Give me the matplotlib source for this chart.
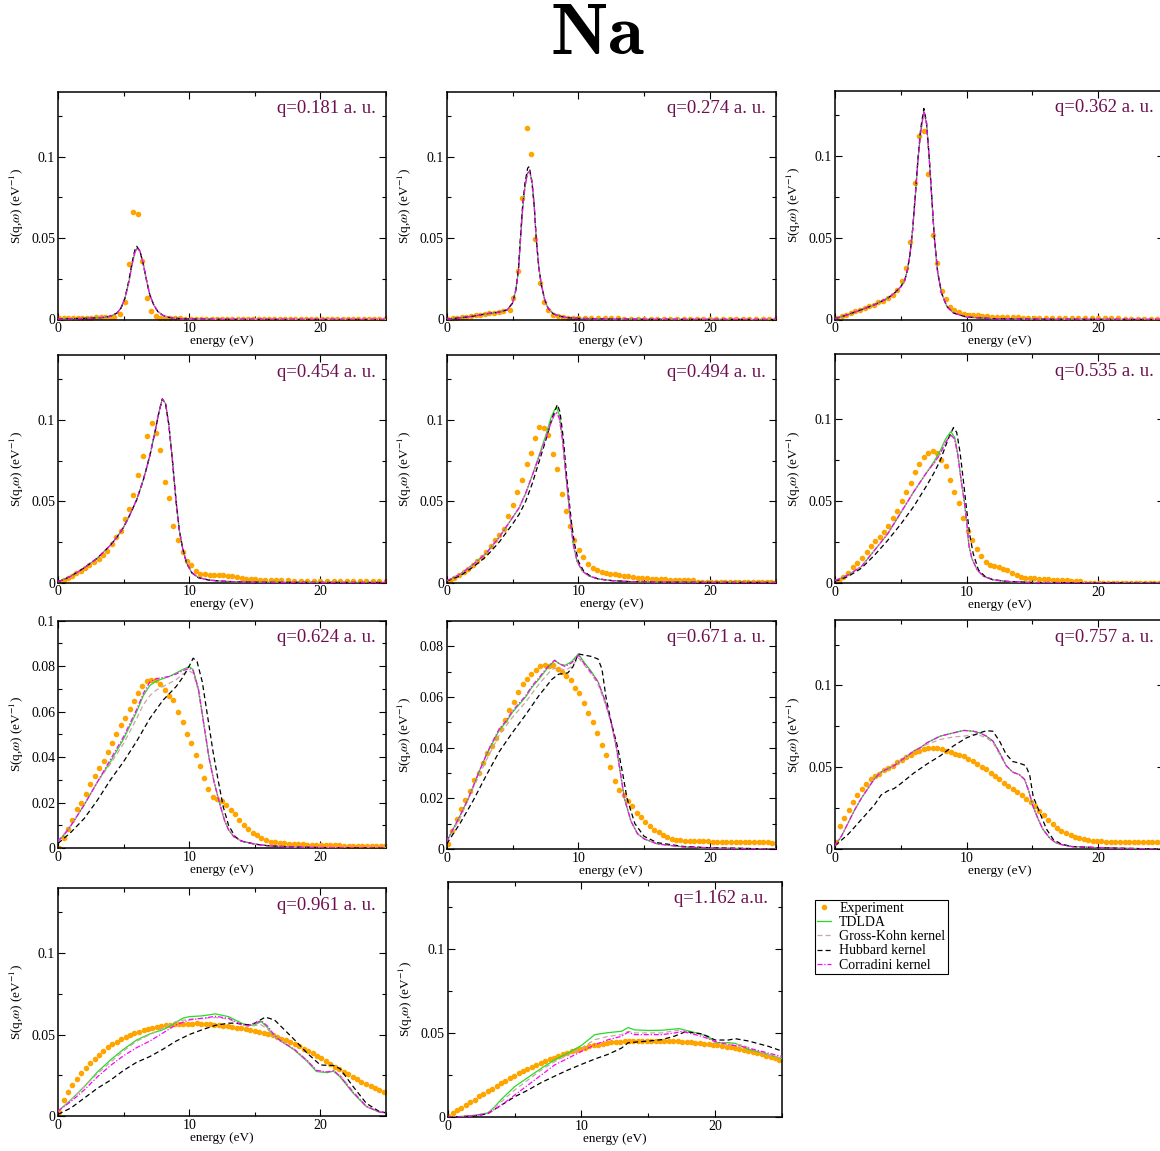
import matplotlib
matplotlib.use('Agg')
import matplotlib.pyplot as plt
from matplotlib.ticker import MultipleLocator, FuncFormatter
from matplotlib.lines import Line2D

plt.rcParams['font.family'] = ['Liberation Serif', 'DejaVu Serif']
plt.rcParams['mathtext.fontset'] = 'stix'

# ---------------- data (energy eV, S(q,w) 1/eV) ----------------
q_labels = ['q=0.181 a. u.', 'q=0.274 a. u.', 'q=0.362 a. u.', 'q=0.454 a. u.',
            'q=0.494 a. u.', 'q=0.535 a. u.', 'q=0.624 a. u.', 'q=0.671 a. u.',
            'q=0.757 a. u.', 'q=0.961 a. u.', 'q=1.162 a.u.']
y_tops = [0.14, 0.14, 0.14, 0.14, 0.14, 0.14, 0.1, 0.09, 0.14, 0.14, 0.14]
y_steps = [0.05, 0.05, 0.05, 0.05, 0.05, 0.05, 0.02, 0.02, 0.05, 0.05, 0.05]

# q = 0.181
exp_181 = [(0.1,0.0008),(0.45,0.0008),(0.8,0.0009),(1.15,0.0009),(1.5,0.001),(1.85,0.001),(2.2,0.0011),
           (2.55,0.0012),(2.9,0.0013),(3.25,0.0014),(3.6,0.0015),(3.95,0.0016),(4.3,0.0018),(4.7,0.0035),
           (5.1,0.0105),(5.4,0.034),(5.74,0.066),(6.12,0.065),(6.38,0.036),(6.76,0.0134),(7.09,0.0054),
           (7.45,0.002),(7.8,0.0012),(8.15,0.0009),(8.5,0.0008),(8.9,0.0007),(9.3,0.0007),(9.7,0.0006),
           (10.1,0.0006),(10.5,0.0006),(10.9,0.0006),(11.3,0.0006),(11.7,0.0006),(12.1,0.0006),(12.5,0.0005),
           (12.9,0.0005),(13.3,0.0005),(13.7,0.0005),(14.1,0.0005),(14.5,0.0005),(14.9,0.0005),(15.3,0.0005),
           (15.7,0.0005),(16.1,0.0005),(16.5,0.0005),(16.9,0.0005),(17.3,0.0005),(17.7,0.0004),(18.1,0.0004),
           (18.5,0.0004),(18.9,0.0004),(19.3,0.0004),(19.7,0.0004),(20.1,0.0004),(20.5,0.0004),(20.9,0.0004),
           (21.3,0.0004),(21.7,0.0004),(22.1,0.0004),(22.5,0.0004),(22.9,0.0004),(23.3,0.0004),(23.7,0.0004),
           (24.1,0.0004),(24.5,0.0004),(24.9,0.0004)]
tdlda_181 = [(0,0.0003),(1,0.0005),(2,0.0007),(3,0.001),(3.5,0.0013),(4,0.002),(4.5,0.004),(4.8,0.007),
             (5.1,0.013),(5.4,0.023),(5.65,0.034),(5.85,0.041),(6.05,0.044),(6.25,0.042),(6.5,0.034),
             (6.75,0.024),(7.0,0.015),(7.3,0.009),(7.6,0.005),(8.0,0.0025),(8.5,0.0012),(9.0,0.0007),
             (10,0.0003),(12,0.0001),(25,0.0)]
gk_181 = tdlda_181
hub_181 = [(0,0.0003),(1,0.0005),(2,0.0007),(3,0.001),(3.5,0.0013),(4,0.002),(4.5,0.004),(4.8,0.007),
           (5.1,0.013),(5.4,0.024),(5.65,0.035),(5.85,0.0425),(6.0,0.045),(6.25,0.042),(6.5,0.034),
           (6.75,0.024),(7.0,0.015),(7.3,0.009),(7.6,0.005),(8.0,0.0025),(8.5,0.0012),(9.0,0.0007),
           (10,0.0003),(12,0.0001),(25,0.0)]
cor_181 = tdlda_181

# q = 0.274
exp_274 = [(0.1,0.0005),(0.45,0.0008),(0.8,0.0012),(1.15,0.0015),(1.5,0.0018),(1.85,0.0021),(2.2,0.0025),
           (2.55,0.003),(2.9,0.0035),(3.25,0.004),(3.6,0.0043),(3.95,0.0046),(4.3,0.0052),(4.81,0.0057),
           (5.06,0.0135),(5.44,0.030),(5.75,0.0746),(6.1,0.1174),(6.4,0.1016),(6.71,0.0496),(7.09,0.0225),
           (7.42,0.0109),(7.72,0.0057),(8.1,0.003),(8.45,0.002),(8.8,0.0015),(9.2,0.0012),(9.6,0.001),
           (10.0,0.0009),(10.5,0.0008),(11.0,0.0008),(11.5,0.0008),(12.0,0.0007),(12.5,0.0007),(13.0,0.0007),
           (13.5,0.0006),(14.0,0.0006),(14.5,0.0006),(15.0,0.0006),(15.5,0.0005),(16.0,0.0005),(16.5,0.0005),
           (17.0,0.0005),(17.5,0.0005),(18.0,0.0005),(18.5,0.0005),(19.0,0.0004),(19.5,0.0004),(20.0,0.0004),
           (20.5,0.0004),(21.0,0.0004),(21.5,0.0004),(22.0,0.0004),(22.5,0.0004),(23.0,0.0004),(23.5,0.0004),
           (24.0,0.0004),(24.5,0.0004),(25.0,0.0004)]
tdlda_274 = [(0,0.0003),(1,0.001),(2,0.002),(3,0.0035),(4,0.0045),(4.6,0.006),(5.0,0.01),(5.25,0.018),
             (5.45,0.03),(5.6,0.048),(5.75,0.066),(5.95,0.082),(6.15,0.09),(6.3,0.091),(6.5,0.084),
             (6.65,0.07),(6.8,0.05),(7.0,0.032),(7.2,0.021),(7.45,0.012),(7.7,0.007),(8.1,0.0035),
             (8.6,0.002),(9.3,0.001),(10,0.0007),(12,0.0003),(15,0.0001),(25,0.0)]
gk_274 = tdlda_274
hub_274 = [(0,0.0003),(1,0.001),(2,0.002),(3,0.0035),(4,0.0045),(4.6,0.006),(5.0,0.01),(5.25,0.018),
           (5.45,0.031),(5.6,0.05),(5.75,0.068),(5.95,0.084),(6.15,0.093),(6.27,0.094),(6.45,0.086),
           (6.65,0.07),(6.8,0.05),(7.0,0.032),(7.2,0.021),(7.45,0.012),(7.7,0.007),(8.1,0.0035),
           (8.6,0.002),(9.3,0.001),(10,0.0007),(12,0.0003),(15,0.0001),(25,0.0)]
cor_274 = tdlda_274

# q = 0.362
exp_362 = [(0.18,0.0008),(0.5,0.002),(0.85,0.003),(1.2,0.004),(1.55,0.005),(1.9,0.006),(2.25,0.007),
           (2.6,0.008),(2.95,0.009),(3.3,0.0105),(3.65,0.0115),(4.05,0.013),(4.43,0.015),(4.73,0.018),
           (5.06,0.0236),(5.39,0.0314),(5.7,0.0473),(6.08,0.0836),(6.4,0.1123),(6.76,0.1154),(7.09,0.0887),
           (7.42,0.0518),(7.72,0.0344),(8.1,0.0174),(8.4,0.0123),(8.73,0.0078),(9.06,0.0057),(9.44,0.0043),
           (9.8,0.0035),(10.15,0.003),(10.5,0.0027),(10.85,0.0025),(11.2,0.0022),(11.55,0.002),(11.9,0.0018),
           (12.3,0.0017),(12.7,0.0016),(13.1,0.0015),(13.5,0.0014),(13.9,0.0013),(14.3,0.0012),(14.7,0.0012),
           (15.1,0.0011),(15.5,0.0011),(16.0,0.001),(16.5,0.001),(17.0,0.0009),(17.5,0.0009),(18.0,0.0008),
           (18.5,0.0008),(19.0,0.0008),(19.5,0.0007),(20.0,0.0007),(20.5,0.0007),(21.0,0.0007),(21.5,0.0007),
           (22.0,0.0006),(22.5,0.0006),(23.0,0.0006),(23.5,0.0006),(24.0,0.0006),(24.5,0.0006),(25.0,0.0006)]
tdlda_362 = [(0,0.0005),(1,0.003),(2,0.006),(3,0.009),(4,0.013),(4.5,0.016),(5.0,0.02),(5.3,0.024),
             (5.5,0.03),(5.7,0.04),(5.9,0.055),(6.1,0.075),(6.3,0.097),(6.5,0.114),(6.75,0.127),(6.95,0.12),
             (7.15,0.1),(7.35,0.075),(7.55,0.05),(7.8,0.029),(8.1,0.016),(8.5,0.008),(9,0.004),(10,0.0015),
             (12,0.0005),(15,0.0002),(25,0.0)]
gk_362 = tdlda_362
hub_362 = [(0,0.0005),(1,0.003),(2,0.006),(3,0.009),(4,0.013),(4.5,0.016),(5.0,0.02),(5.3,0.024),
           (5.5,0.03),(5.7,0.04),(5.9,0.055),(6.1,0.076),(6.3,0.098),(6.5,0.116),(6.75,0.129),(6.95,0.121),
           (7.15,0.1),(7.35,0.075),(7.55,0.05),(7.8,0.029),(8.1,0.016),(8.5,0.008),(9,0.004),(10,0.0015),
           (12,0.0005),(15,0.0002),(25,0.0)]
cor_362 = tdlda_362

# q = 0.454
exp_454 = [(0.08,0.0002),(0.46,0.0016),(0.77,0.003),(1.1,0.0043),(1.4,0.0057),(1.73,0.0072),(2.07,0.0088),
           (2.4,0.0105),(2.75,0.0125),(3.1,0.0145),(3.43,0.0168),(3.76,0.0195),(4.1,0.024),(4.43,0.028),
           (4.77,0.032),(5.1,0.039),(5.41,0.045),(5.74,0.054),(6.12,0.066),(6.45,0.078),(6.76,0.09),
           (7.14,0.098),(7.45,0.092),(7.78,0.0818),(8.14,0.0617),(8.44,0.0518),(8.8,0.035),(9.13,0.026),
           (9.49,0.019),(9.82,0.0135),(10.15,0.0105),(10.5,0.0072),(10.85,0.0055),(11.2,0.005),(11.55,0.0049),
           (11.9,0.0048),(12.25,0.0047),(12.6,0.0046),(12.95,0.0042),(13.3,0.0038),(13.65,0.0032),(14.0,0.0026),
           (14.35,0.0022),(14.7,0.002),(15.05,0.0019),(15.4,0.0018),(15.8,0.0017),(16.2,0.0016),(16.6,0.0015),
           (17.0,0.0014),(17.5,0.0013),(18.0,0.0012),(18.5,0.0011),(19.0,0.001),(19.5,0.001),(20.0,0.0009),
           (20.5,0.0009),(21.0,0.0008),(21.5,0.0008),(22.0,0.0008),(22.5,0.0007),(23.0,0.0007),(23.5,0.0007),
           (24.0,0.0007),(24.5,0.0007),(25.0,0.0007)]
tdlda_454 = [(0,0.0005),(0.5,0.002),(1,0.004),(1.5,0.0065),(2,0.009),(2.5,0.012),(3,0.015),(3.5,0.019),
             (4,0.023),(4.5,0.028),(5,0.034),(5.5,0.042),(6,0.051),(6.5,0.063),(7,0.078),(7.4,0.093),
             (7.7,0.105),(7.95,0.113),(8.2,0.11),(8.45,0.097),(8.7,0.077),(9.0,0.05),(9.25,0.032),(9.5,0.021),
             (9.8,0.012),(10.2,0.006),(10.7,0.003),(11.5,0.0015),(12.5,0.0008),(14,0.0003),(16,0.0001),(25,0.0)]
gk_454 = tdlda_454
hub_454 = tdlda_454
cor_454 = tdlda_454

# q = 0.494
exp_494 = [(0.25,0.0012),(0.58,0.0027),(0.96,0.0047),(1.3,0.0065),(1.65,0.0085),(2.0,0.011),(2.33,0.0135),
           (2.68,0.016),(2.99,0.019),(3.33,0.0225),(3.66,0.026),(4.0,0.029),(4.35,0.033),(4.68,0.0407),
           (5.06,0.048),(5.37,0.056),(5.75,0.063),(6.08,0.073),(6.38,0.080),(6.73,0.089),(7.04,0.0959),
           (7.39,0.0953),(7.72,0.091),(8.1,0.079),(8.4,0.070),(8.73,0.0545),(9.06,0.044),(9.37,0.035),
           (9.7,0.026),(10.08,0.020),(10.38,0.016),(10.76,0.0115),(11.1,0.009),(11.4,0.0078),(11.77,0.0067),
           (12.1,0.006),(12.4,0.0055),(12.75,0.005),(13.1,0.0045),(13.45,0.0042),(13.8,0.0038),(14.15,0.0033),
           (14.5,0.003),(14.85,0.0027),(15.2,0.0025),(15.55,0.0023),(15.9,0.0021),(16.25,0.002),(16.6,0.0019),
           (16.95,0.0018),(17.3,0.0017),(17.65,0.0016),(18.0,0.0016),(18.35,0.0016),(18.7,0.0015),
           (19.05,0.0002),(19.4,0.0002),(19.75,0.0002),(20.1,0.0002),(20.45,0.0002),(20.8,0.0002),
           (21.15,0.0002),(21.5,0.0002),(21.85,0.0002),(22.2,0.0002),(22.55,0.0002),(22.9,0.0002),
           (23.25,0.0002),(23.6,0.0002),(23.95,0.0002),(24.3,0.0002),(24.65,0.0002),(25.0,0.0002)]
tdlda_494 = [(0,0.001),(0.5,0.003),(1,0.005),(1.5,0.008),(2,0.011),(2.5,0.0145),(3,0.018),(3.5,0.023),
             (4,0.028),(4.5,0.034),(5,0.04),(5.5,0.046),(6,0.055),(6.5,0.066),(7,0.078),(7.5,0.09),
             (7.9,0.101),(8.2,0.1065),(8.35,0.1076),(8.55,0.103),(8.8,0.088),(9.05,0.066),(9.25,0.05),
             (9.45,0.034),(9.62,0.023),(9.9,0.013),(10.3,0.007),(10.8,0.004),(11.5,0.0022),(12.5,0.0012),
             (14,0.0005),(16,0.0002),(25,0.0)]
gk_494 = [(0,0.001),(0.5,0.003),(1,0.005),(1.5,0.008),(2,0.011),(2.5,0.0145),(3,0.018),(3.5,0.023),
          (4,0.028),(4.5,0.034),(5,0.04),(5.5,0.046),(6,0.055),(6.5,0.066),(7,0.077),(7.5,0.088),
          (7.9,0.098),(8.2,0.1035),(8.35,0.1045),(8.55,0.101),(8.8,0.087),(9.05,0.066),(9.25,0.05),
          (9.45,0.034),(9.62,0.023),(9.9,0.013),(10.3,0.007),(10.8,0.004),(11.5,0.0022),(12.5,0.0012),
          (14,0.0005),(16,0.0002),(25,0.0)]
hub_494 = [(0,0.0008),(1,0.004),(2,0.0095),(3,0.016),(4,0.025),(5,0.036),(5.5,0.042),(6,0.05),
           (6.5,0.061),(7,0.074),(7.5,0.087),(8,0.101),(8.4,0.1095),(8.6,0.105),(8.85,0.089),(9.1,0.066),
           (9.3,0.05),(9.5,0.035),(9.7,0.024),(10,0.013),(10.4,0.007),(10.9,0.004),(11.5,0.0022),
           (12.5,0.0012),(14,0.0005),(16,0.0002),(25,0.0)]
cor_494 = gk_494

# q = 0.535
exp_535 = [(0.33,0.002),(0.63,0.0036),(1.01,0.0063),(1.39,0.0095),(1.7,0.012),(2.05,0.0155),(2.4,0.019),
           (2.72,0.0225),(3.07,0.0255),(3.42,0.028),(3.72,0.031),(4.05,0.035),(4.38,0.04),(4.71,0.044),
           (5.06,0.05),(5.39,0.0557),(5.75,0.061),(6.08,0.068),(6.4,0.073),(6.73,0.0773),(7.06,0.0796),
           (7.42,0.0804),(7.72,0.0796),(8.08,0.0755),(8.4,0.0715),(8.76,0.063),(9.06,0.0557),(9.42,0.049),
           (9.75,0.040),(10.08,0.032),(10.43,0.026),(10.76,0.021),(11.1,0.0166),(11.44,0.0128),(11.77,0.0107),
           (12.1,0.0101),(12.46,0.0097),(12.78,0.0087),(13.1,0.0077),(13.47,0.006),(13.8,0.005),(14.1,0.0038),
           (14.45,0.0033),(14.8,0.003),(15.15,0.0028),(15.5,0.0026),(15.85,0.0024),(16.2,0.0022),(16.55,0.002),
           (16.9,0.0019),(17.25,0.0018),(17.6,0.0016),(17.95,0.0015),(18.3,0.0014),(18.65,0.0013),
           (19.0,0.0002),(19.35,0.0002),(19.7,0.0002),(20.05,0.0002),(20.4,0.0002),(20.75,0.0002),
           (21.1,0.0002),(21.45,0.0002),(21.8,0.0002),(22.15,0.0002),(22.5,0.0002),(22.85,0.0002),
           (23.2,0.0002),(23.55,0.0002),(23.9,0.0002),(24.25,0.0002),(24.6,0.0002),(24.95,0.0002)]
tdlda_535 = [(0,0.0015),(0.5,0.003),(1,0.005),(1.5,0.0075),(2,0.01),(2.5,0.015),(3,0.02),(3.5,0.025),
             (4,0.03),(4.5,0.0365),(5,0.043),(5.5,0.0495),(6,0.056),(6.5,0.062),(7,0.068),(7.5,0.074),
             (8,0.081),(8.4,0.088),(8.8,0.0925),(9.1,0.089),(9.35,0.078),(9.6,0.062),(9.82,0.05),(10.0,0.038),
             (10.18,0.0227),(10.4,0.015),(10.8,0.008),(11.3,0.004),(12,0.002),(13,0.001),(15,0.0003),(25,0.0)]
gk_535 = [(0,0.0015),(0.5,0.003),(1,0.005),(1.5,0.0075),(2,0.01),(2.5,0.015),(3,0.02),(3.5,0.025),
          (4,0.03),(4.5,0.0365),(5,0.043),(5.5,0.0495),(6,0.056),(6.5,0.062),(7,0.068),(7.5,0.073),
          (8,0.079),(8.4,0.086),(8.8,0.0905),(9.1,0.088),(9.35,0.077),(9.6,0.062),(9.82,0.05),(10.0,0.038),
          (10.18,0.0227),(10.4,0.015),(10.8,0.008),(11.3,0.004),(12,0.002),(13,0.001),(15,0.0003),(25,0.0)]
hub_535 = [(0,0.001),(1,0.004),(2,0.009),(3,0.017),(4,0.026),(5,0.036),(6,0.047),(7,0.06),(7.5,0.067),
           (8,0.075),(8.6,0.088),(9.0,0.095),(9.25,0.092),(9.5,0.08),(9.75,0.063),(10.0,0.045),(10.25,0.029),
           (10.5,0.018),(10.9,0.008),(11.4,0.004),(12,0.002),(13,0.001),(15,0.0003),(25,0.0)]
cor_535 = gk_535

# q = 0.624
exp_624 = [(0.08,0.0),(0.43,0.0045),(0.76,0.0085),(1.09,0.0125),(1.45,0.017),(1.78,0.0198),(2.1,0.0236),
           (2.47,0.028),(2.8,0.0316),(3.13,0.035),(3.49,0.0383),(3.82,0.0423),(4.15,0.0463),(4.45,0.05),
           (4.78,0.054),(5.14,0.0574),(5.47,0.061),(5.8,0.0648),(6.1,0.0683),(6.44,0.0712),(6.77,0.0736),
           (7.12,0.0739),(7.46,0.0739),(7.81,0.072),(8.14,0.0697),(8.47,0.067),(8.8,0.065),(9.16,0.060),
           (9.5,0.0554),(9.8,0.050),(10.13,0.046),(10.5,0.041),(10.8,0.036),(11.1,0.031),(11.45,0.026),
           (11.78,0.0225),(12.14,0.0215),(12.47,0.0207),(12.8,0.019),(13.15,0.0169),(13.49,0.0148),
           (13.82,0.0125),(14.17,0.0103),(14.5,0.0085),(14.83,0.0066),(15.2,0.0056),(15.5,0.0043),
           (15.85,0.0034),(16.2,0.0028),(16.55,0.0025),(16.9,0.0022),(17.25,0.002),(17.6,0.0019),
           (17.95,0.0018),(18.3,0.0017),(18.65,0.0016),(19.0,0.0015),(19.35,0.0014),(19.7,0.0013),
           (20.05,0.0013),(20.4,0.0012),(20.75,0.0012),(21.1,0.0011),(21.45,0.0011),(21.8,0.001),
           (22.15,0.001),(22.5,0.001),(22.85,0.001),(23.2,0.0009),(23.55,0.0009),(23.9,0.0009),
           (24.25,0.0009),(24.6,0.0009),(24.95,0.0009)]
tdlda_624 = [(0,0.003),(0.5,0.006),(1,0.01),(1.5,0.0145),(2,0.019),(2.5,0.024),(3,0.029),(3.5,0.0335),
             (4,0.038),(4.5,0.043),(5,0.048),(5.5,0.054),(6,0.06),(6.5,0.067),(7,0.0715),(7.5,0.0735),
             (8,0.0745),(8.5,0.0755),(9,0.077),(9.5,0.0785),(10,0.0798),(10.3,0.0785),(10.7,0.07),(11.1,0.055),
             (11.5,0.04),(11.9,0.029),(12.3,0.02),(12.7,0.012),(13.0,0.008),(13.4,0.005),(14,0.003),
             (15,0.0017),(16,0.001),(18,0.0004),(20,0.0002),(25,0.0)]
gk_624 = [(0,0.003),(1,0.01),(2,0.019),(3,0.029),(4,0.037),(5,0.046),(6,0.057),(6.5,0.063),(7,0.067),
          (7.5,0.0695),(8,0.071),(8.5,0.0725),(9,0.074),(9.5,0.0765),(10,0.0778),(10.3,0.077),(10.7,0.069),
          (11.1,0.055),(11.5,0.04),(11.9,0.029),(12.3,0.02),(12.7,0.012),(13.0,0.008),(13.4,0.005),
          (14,0.003),(15,0.0017),(16,0.001),(18,0.0004),(20,0.0002),(25,0.0)]
hub_624 = [(0,0.002),(1,0.007),(2,0.013),(3,0.021),(4,0.03),(5,0.038),(6,0.047),(7,0.057),(8,0.065),
           (9,0.071),(9.5,0.075),(10,0.08),(10.3,0.0835),(10.6,0.082),(11,0.073),(11.4,0.058),(11.8,0.043),
           (12.2,0.03),(12.6,0.018),(13,0.01),(13.5,0.005),(14,0.003),(15,0.0017),(16,0.001),(18,0.0004),
           (20,0.0002),(25,0.0)]
cor_624 = [(0,0.003),(0.5,0.006),(1,0.01),(1.5,0.0145),(2,0.019),(2.5,0.024),(3,0.029),(3.5,0.034),
           (4,0.039),(4.5,0.044),(5,0.049),(5.5,0.055),(6,0.061),(6.5,0.068),(7,0.073),(7.5,0.0745),
           (8,0.075),(8.5,0.0755),(9,0.0765),(9.5,0.078),(10,0.079),(10.3,0.078),(10.7,0.07),(11.1,0.055),
           (11.5,0.04),(11.9,0.029),(12.3,0.02),(12.7,0.012),(13.0,0.008),(13.4,0.005),(14,0.003),
           (15,0.0017),(16,0.001),(18,0.0004),(20,0.0002),(25,0.0)]

# q = 0.671
exp_671 = [(0.08,0.002),(0.38,0.0072),(0.76,0.0118),(1.09,0.0157),(1.42,0.0194),(1.77,0.023),(2.1,0.0273),
           (2.43,0.030),(2.76,0.034),(3.09,0.0378),(3.44,0.0408),(3.77,0.044),(4.1,0.0472),(4.43,0.051),
           (4.76,0.0548),(5.11,0.0581),(5.44,0.062),(5.77,0.0653),(6.1,0.0673),(6.43,0.069),(6.78,0.0708),
           (7.11,0.0721),(7.44,0.0725),(7.77,0.0721),(8.1,0.0725),(8.43,0.0712),(8.76,0.070),(9.1,0.0682),
           (9.42,0.0669),(9.75,0.0637),(10.08,0.0614),(10.4,0.0578),(10.76,0.0538),(11.09,0.050),
           (11.42,0.0456),(11.77,0.041),(12.1,0.0371),(12.43,0.0325),(12.76,0.027),(13.09,0.0233),
           (13.44,0.0214),(13.77,0.0188),(14.1,0.0168),(14.43,0.0144),(14.76,0.0126),(15.1,0.0105),
           (15.43,0.0092),(15.76,0.0076),(16.1,0.0066),(16.43,0.0056),(16.76,0.0046),(17.1,0.0039),
           (17.43,0.0037),(17.76,0.0034),(18.1,0.0033),(18.45,0.0032),(18.8,0.0031),(19.15,0.003),
           (19.5,0.003),(19.85,0.003),(20.2,0.0029),(20.55,0.0029),(20.9,0.0028),(21.25,0.0028),
           (21.6,0.0028),(21.95,0.0027),(22.3,0.0027),(22.65,0.0027),(23.0,0.0027),(23.35,0.0026),
           (23.7,0.0026),(24.05,0.0026),(24.4,0.0026),(24.75,0.0025)]
tdlda_671 = [(0,0.003),(0.5,0.008),(1,0.013),(1.65,0.02),(2.5,0.031),(3,0.037),(3.3,0.04),(4,0.047),
             (4.5,0.05),(5,0.054),(5.5,0.057),(6,0.06),(6.5,0.064),(7,0.067),(7.6,0.071),(8.2,0.0745),
             (8.6,0.073),(9.0,0.0725),(9.5,0.074),(10,0.077),(10.4,0.074),(11,0.07),(11.5,0.066),(12,0.059),
             (12.5,0.05),(12.9,0.04),(13.2,0.03),(13.5,0.02),(14,0.011),(14.5,0.006),(15,0.004),(16,0.002),
             (18,0.0008),(20,0.0004),(25,0.0)]
gk_671 = [(0,0.003),(1,0.012),(2,0.024),(3,0.035),(4,0.045),(5,0.052),(6,0.058),(7,0.065),(8,0.071),
          (8.5,0.0715),(9,0.0705),(9.5,0.072),(10,0.0755),(10.4,0.073),(11,0.069),(11.5,0.065),(12,0.058),
          (12.5,0.05),(12.9,0.04),(13.2,0.03),(13.5,0.02),(14,0.011),(14.5,0.006),(15,0.004),(16,0.002),
          (18,0.0008),(20,0.0004),(25,0.0)]
hub_671 = [(0,0.002),(1,0.01),(2,0.019),(3,0.029),(4,0.0385),(5,0.046),(6,0.053),(7,0.0605),(8,0.067),
           (8.5,0.069),(9.2,0.0695),(9.6,0.072),(10,0.077),(10.5,0.0765),(11,0.076),(11.5,0.075),
           (11.8,0.071),(12.1,0.06),(12.5,0.05),(13.0,0.04),(13.4,0.029),(13.7,0.02),(14.3,0.01),(15,0.005),
           (16,0.0025),(18,0.001),(20,0.0005),(25,0.0)]
cor_671 = [(0,0.003),(0.5,0.008),(1,0.013),(1.65,0.02),(2.5,0.031),(3,0.037),(3.3,0.0405),(4,0.0475),
           (4.5,0.0505),(5,0.0545),(5.5,0.0575),(6,0.0605),(6.5,0.0645),(7,0.0675),(7.6,0.0715),(8.2,0.0745),
           (8.6,0.073),(9.0,0.072),(9.5,0.0735),(10,0.0765),(10.4,0.0735),(11,0.0695),(11.5,0.066),
           (12,0.059),(12.5,0.05),(12.9,0.04),(13.2,0.03),(13.5,0.02),(14,0.011),(14.5,0.006),(15,0.004),
           (16,0.002),(18,0.0008),(20,0.0004),(25,0.0)]

# q = 0.757
exp_757 = [(0.08,0.004),(0.38,0.014),(0.71,0.019),(1.04,0.024),(1.39,0.029),(1.7,0.033),(2.05,0.0365),
           (2.35,0.0395),(2.71,0.0426),(3.04,0.0447),(3.37,0.046),(3.72,0.048),(4.05,0.0498),(4.38,0.051),
           (4.73,0.053),(5.06,0.0545),(5.39,0.056),(5.75,0.0576),(6.08,0.059),(6.4,0.06),(6.76,0.061),
           (7.09,0.0615),(7.42,0.0615),(7.77,0.0615),(8.1,0.061),(8.43,0.06),(8.78,0.059),(9.11,0.058),
           (9.44,0.0574),(9.8,0.0566),(10.13,0.055),(10.46,0.0535),(10.8,0.0522),(11.14,0.0504),
           (11.47,0.0488),(11.82,0.0467),(12.15,0.0447),(12.48,0.0426),(12.84,0.0406),(13.16,0.0385),
           (13.5,0.0369),(13.85,0.0348),(14.18,0.0328),(14.5,0.0307),(14.86,0.0287),(15.19,0.0262),
           (15.52,0.0232),(15.87,0.0205),(16.2,0.018),(16.53,0.0154),(16.89,0.0129),(17.2,0.0113),
           (17.54,0.0098),(17.9,0.0086),(18.23,0.0076),(18.56,0.0068),(18.9,0.0059),(19.24,0.0053),
           (19.57,0.0049),(19.9,0.0047),(20.25,0.0046),(20.6,0.0045),(20.95,0.0044),(21.3,0.0043),
           (21.65,0.0043),(22.0,0.0042),(22.35,0.0042),(22.7,0.0041),(23.05,0.0041),(23.4,0.004),
           (23.75,0.004),(24.1,0.004),(24.45,0.004),(24.8,0.004)]
tdlda_757 = [(0,0.002),(0.5,0.008),(1,0.016),(1.5,0.024),(2,0.031),(2.5,0.037),(3,0.043),(3.5,0.047),
             (4,0.049),(4.5,0.051),(5,0.054),(5.5,0.057),(6,0.06),(6.5,0.062),(7,0.065),(8,0.069),(9,0.071),
             (9.8,0.0725),(10.5,0.072),(11,0.071),(11.5,0.069),(12,0.066),(12.5,0.059),(13,0.051),
             (13.5,0.047),(14,0.0455),(14.4,0.0426),(14.7,0.036),(15.05,0.026),(15.45,0.018),(15.8,0.012),
             (16.3,0.0068),(16.8,0.0037),(17.3,0.0025),(18,0.0015),(20,0.0008),(22,0.0004),(25,0.0)]
gk_757 = [(0,0.002),(0.5,0.008),(1,0.016),(1.5,0.024),(2,0.031),(2.5,0.037),(3,0.043),(3.5,0.047),
          (4,0.049),(4.5,0.051),(5,0.054),(5.5,0.057),(6,0.06),(6.5,0.062),(7,0.064),(8,0.067),(9,0.0685),
          (9.8,0.069),(10.5,0.07),(11,0.0695),(11.5,0.068),(12,0.065),(12.5,0.058),(13,0.051),(13.5,0.047),
          (14,0.0455),(14.4,0.0426),(14.7,0.036),(15.05,0.026),(15.45,0.018),(15.8,0.012),(16.3,0.0068),
          (16.8,0.0037),(17.3,0.0025),(18,0.0015),(20,0.0008),(22,0.0004),(25,0.0)]
hub_757 = [(0,0.002),(1,0.009),(2,0.018),(3,0.027),(3.5,0.033),(4,0.0355),(4.5,0.037),(5,0.04),(6,0.0465),
           (7,0.052),(8,0.057),(9,0.063),(10,0.068),(11,0.071),(11.5,0.0723),(12,0.072),(12.5,0.066),
           (13,0.058),(13.5,0.0535),(14,0.0525),(14.5,0.051),(14.8,0.045),(15.06,0.032),(15.57,0.022),
           (16.08,0.012),(16.6,0.0057),(17.2,0.003),(18,0.0015),(20,0.0008),(22,0.0004),(25,0.0)]
cor_757 = tdlda_757

# q = 0.961
exp_961 = [(0.08,0.0027),(0.43,0.0098),(0.76,0.0145),(1.1,0.019),(1.43,0.0227),(1.78,0.0262),(2.11,0.0293),
           (2.45,0.0324),(2.8,0.035),(3.13,0.0377),(3.46,0.0402),(3.8,0.0422),(4.15,0.0443),(4.48,0.0457),
           (4.82,0.0473),(5.17,0.0488),(5.5,0.0498),(5.83,0.0508),(6.19,0.0518),(6.52,0.0529),(6.85,0.0535),
           (7.18,0.0543),(7.54,0.0549),(7.87,0.0553),(8.2,0.0557),(8.53,0.0561),(8.9,0.0564),(9.22,0.0566),
           (9.55,0.0566),(9.89,0.0566),(10.24,0.0566),(10.57,0.0568),(10.9,0.0566),(11.26,0.0564),
           (11.6,0.0564),(11.92,0.0561),(12.28,0.0557),(12.6,0.0555),(12.94,0.0551),(13.3,0.0547),
           (13.63,0.0543),(13.96,0.0539),(14.32,0.0533),(14.65,0.0527),(14.98,0.0523),(15.34,0.0516),
           (15.67,0.051),(16.0,0.0504),(16.36,0.0496),(16.69,0.0486),(17.02,0.0475),(17.38,0.0465),
           (17.71,0.0453),(18.04,0.044),(18.4,0.0428),(18.73,0.0414),(19.06,0.04),(19.41,0.0385),
           (19.75,0.0369),(20.08,0.0355),(20.43,0.0336),(20.76,0.032),(21.1,0.0303),(21.45,0.0289),
           (21.78,0.0273),(22.11,0.0256),(22.47,0.024),(22.8,0.0225),(23.13,0.0211),(23.49,0.0197),
           (23.82,0.0184),(24.15,0.017),(24.5,0.016),(24.84,0.0148)]
tdlda_961 = [(0,0.003),(1,0.01),(2,0.018),(3,0.027),(4,0.0344),(5,0.041),(6,0.0467),(7,0.0504),(8,0.053),
             (8.5,0.055),(9.5,0.06),(10,0.061),(11,0.0615),(12,0.0627),(13,0.061),(14,0.057),(14.5,0.0555),
             (15,0.056),(15.5,0.058),(16,0.054),(16.5,0.0488),(17,0.046),(18,0.0406),(19,0.0334),
             (19.7,0.0273),(20.5,0.0266),(21,0.0275),(21.5,0.024),(22.5,0.014),(23.5,0.0057),(24.5,0.0023),
             (25,0.002)]
gk_961 = [(0,0.003),(1,0.01),(2,0.018),(3,0.026),(4,0.033),(5,0.04),(6,0.046),(7,0.05),(8,0.054),(9,0.058),
          (10,0.0595),(11,0.06),(12,0.0605),(13,0.0595),(14,0.056),(14.5,0.055),(15,0.0555),(15.5,0.056),
          (16,0.053),(16.5,0.049),(17,0.046),(18,0.041),(19,0.034),(19.7,0.028),(20.5,0.027),(21,0.028),
          (21.5,0.025),(22.5,0.015),(23.5,0.006),(24.5,0.0025),(25,0.002)]
hub_961 = [(0,0.001),(1,0.005),(2,0.011),(3,0.017),(4,0.022),(5,0.028),(6,0.033),(7,0.0365),(8,0.041),
           (9,0.046),(10,0.05),(11,0.053),(12,0.0557),(13,0.057),(13.5,0.057),(14.5,0.056),(15,0.057),
           (15.8,0.0607),(16.5,0.059),(17,0.055),(18,0.047),(19,0.0385),(20,0.0313),(21,0.031),(21.5,0.029),
           (22.5,0.018),(23.5,0.0078),(24.5,0.0027),(25,0.002)]
cor_961 = [(0,0.003),(1,0.009),(2,0.016),(3,0.024),(4,0.031),(5,0.037),(6,0.042),(7,0.046),(8,0.051),
           (9,0.056),(10,0.059),(11,0.06),(12,0.0612),(13,0.06),(14,0.056),(14.5,0.0555),(15,0.057),
           (15.5,0.0585),(16,0.055),(16.5,0.0495),(17,0.046),(18,0.041),(19,0.034),(19.7,0.028),(20.5,0.027),
           (21,0.0278),(21.5,0.0245),(22.5,0.0145),(23.5,0.006),(24.5,0.0025),(25,0.002)]

# q = 1.162
exp_1162 = [(0.05,0.0008),(0.37,0.0024),(0.7,0.004),(1.02,0.0056),(1.35,0.0072),(1.67,0.0088),(2.02,0.0104),
            (2.34,0.0122),(2.67,0.0137),(3.0,0.0153),(3.34,0.0169),(3.67,0.0185),(3.99,0.0201),(4.31,0.0215),
            (4.64,0.0231),(4.99,0.0245),(5.31,0.0259),(5.64,0.0273),(5.96,0.0287),(6.31,0.0299),(6.63,0.0311),
            (6.96,0.0323),(7.28,0.0333),(7.63,0.0343),(7.96,0.0353),(8.28,0.0363),(8.6,0.0373),(8.95,0.0382),
            (9.28,0.039),(9.6,0.0398),(9.93,0.0406),(10.27,0.0412),(10.6,0.042),(10.92,0.0426),(11.25,0.043),
            (11.6,0.0436),(11.92,0.044),(12.24,0.0444),(12.57,0.0446),(12.92,0.0448),(13.24,0.045),
            (13.57,0.0452),(13.89,0.0452),(14.24,0.0454),(14.56,0.0454),(14.89,0.0454),(15.21,0.0454),
            (15.56,0.0454),(15.89,0.0454),(16.21,0.0452),(16.53,0.0452),(16.88,0.045),(17.21,0.045),
            (17.53,0.0448),(17.86,0.0446),(18.2,0.0444),(18.53,0.0442),(18.85,0.044),(19.18,0.0436),
            (19.53,0.0434),(19.85,0.043),(20.17,0.0426),(20.5,0.0422),(20.85,0.0418),(21.17,0.0414),
            (21.5,0.041),(21.82,0.0404),(22.17,0.0398),(22.49,0.0392),(22.82,0.0386),(23.14,0.038),
            (23.49,0.0373),(23.82,0.0365),(24.14,0.0357),(24.46,0.0349),(24.81,0.0341)]
tdlda_1162 = [(0,0.0),(1,0.0003),(2,0.001),(3,0.0024),(3.5,0.006),(4,0.0104),(5,0.018),(6,0.0235),(7,0.029),
              (8,0.034),(9,0.038),(10,0.0426),(11,0.049),(12,0.0502),(12.5,0.0506),(13,0.051),(13.5,0.0532),
              (14,0.0518),(15,0.0515),(16,0.0516),(17.3,0.0526),(18,0.0512),(19,0.0492),(19.5,0.048),
              (20,0.0442),(21,0.0442),(21.5,0.0438),(22.5,0.0402),(24,0.0372),(25,0.0347)]
gk_1162 = [(0,0.0),(1,0.0003),(2,0.001),(3,0.0024),(4,0.009),(5,0.016),(6,0.022),(7,0.028),(8,0.033),
           (9,0.037),(10,0.041),(11,0.046),(12,0.048),(13,0.049),(13.5,0.051),(14,0.05),(15,0.05),(16,0.05),
           (17.5,0.052),(18,0.0505),(19,0.049),(20,0.0445),(21,0.0435),(22,0.043),(23,0.0395),(24,0.037),
           (25,0.035)]
hub_1162 = [(0,0.0),(2,0.0005),(3,0.002),(4,0.007),(5,0.012),(6,0.016),(7,0.0205),(8,0.0243),(9,0.028),
            (10,0.0313),(11,0.0345),(12,0.0373),(13,0.041),(13.5,0.0442),(15,0.0452),(16,0.046),(17,0.0482),
            (17.8,0.0508),(18.5,0.05),(19,0.0495),(20,0.0458),(21,0.0458),(21.5,0.0466),(22.5,0.0452),
            (24,0.042),(25,0.0392)]
cor_1162 = [(0,0.0),(1,0.0002),(2,0.0008),(3,0.002),(4,0.007),(5,0.013),(6,0.019),(7,0.025),(8,0.031),
            (9,0.035),(10,0.039),(11,0.043),(12,0.046),(13,0.048),(13.5,0.0505),(14,0.049),(15,0.049),
            (16,0.049),(17,0.05),(17.5,0.051),(18,0.05),(19,0.048),(20,0.045),(21,0.043),(22,0.042),
            (23,0.04),(24,0.038),(25,0.036)]

panels = [
    (exp_181, tdlda_181, gk_181, hub_181, cor_181),
    (exp_274, tdlda_274, gk_274, hub_274, cor_274),
    (exp_362, tdlda_362, gk_362, hub_362, cor_362),
    (exp_454, tdlda_454, gk_454, hub_454, cor_454),
    (exp_494, tdlda_494, gk_494, hub_494, cor_494),
    (exp_535, tdlda_535, gk_535, hub_535, cor_535),
    (exp_624, tdlda_624, gk_624, hub_624, cor_624),
    (exp_671, tdlda_671, gk_671, hub_671, cor_671),
    (exp_757, tdlda_757, gk_757, hub_757, cor_757),
    (exp_961, tdlda_961, gk_961, hub_961, cor_961),
    (exp_1162, tdlda_1162, gk_1162, hub_1162, cor_1162),
]

# axes boxes in pixels: left, top, right, bottom
boxes = [(58, 91.7, 386, 319.5), (446.7, 91.7, 775.7, 319.5), (835, 90.5, 1164, 319.5),
         (58, 355, 386, 582.5), (446.7, 355, 776, 582.5), (835, 354, 1164, 583),
         (58, 620.7, 386, 848), (446.7, 621, 775.7, 849), (835, 620, 1164, 849),
         (58, 888, 386, 1116), (447.7, 881.7, 782, 1117)]

W, H = 1160, 1151
ORANGE = '#ffa500'
GREEN = '#22dd22'
GK = '#c9a5a5'
MAG = '#ff00ff'
QCOL = '#6e1050'
MS = 3.0


def xy(pairs):
    return [p[0] for p in pairs], [p[1] for p in pairs]


fig = plt.figure(figsize=(W / 100, H / 100), dpi=100)
fig.text(0.515, 1 - 54 / H, r'$\mathbf{Na}$', math_fontfamily='cm', fontsize=53,
         ha='center', va='baseline')

for i, (exp, td, gk, hub, cor) in enumerate(panels):
    l, t, r, b = boxes[i]
    ax = fig.add_axes([l / W, 1 - b / H, (r - l) / W, (b - t) / H])
    ex, ey = xy(exp)
    ax.plot(ex, ey, ls='none', marker='o', ms=MS, color=ORANGE, mec=ORANGE, zorder=2)
    ax.plot(*xy(td), color=GREEN, lw=0.9, zorder=3)
    ax.plot(*xy(gk), color=GK, lw=0.9, dashes=(4, 2.5), zorder=3)
    ax.plot(*xy(hub), color='black', lw=0.9, dashes=(4, 2.5), zorder=4)
    ax.plot(*xy(cor), color=MAG, lw=0.9, dashes=(4, 1.5, 1, 1.5), zorder=4)

    ax.set_xlim(0, 25)
    ax.set_ylim(0, y_tops[i])
    ax.xaxis.set_major_locator(MultipleLocator(10))
    ax.xaxis.set_minor_locator(MultipleLocator(5))
    ax.yaxis.set_major_locator(MultipleLocator(y_steps[i]))
    ax.yaxis.set_minor_locator(MultipleLocator(y_steps[i] / 2))
    ax.yaxis.set_major_formatter(FuncFormatter(lambda v, p: '%g' % round(v, 4)))
    ax.tick_params(which='both', direction='in', top=True, right=True, labelsize=10, pad=2)
    ax.tick_params(which='major', length=5, width=0.8)
    ax.tick_params(which='minor', length=3, width=0.8)
    for s in ax.spines.values():
        s.set_linewidth(1.1)
    ax.set_xlabel('energy (eV)', fontsize=9.5, labelpad=0)
    ax.set_ylabel(r'S(q,$\omega$) (eV$^{-1}$)', fontsize=9.5, labelpad=4)
    right_gap = 14 if i == 10 else 10
    ax.text((r - right_gap - l) / (r - l), 1 - 17 / (b - t), q_labels[i],
            transform=ax.transAxes, ha='right', va='center', color=QCOL, fontsize=13.5)

handles = [Line2D([], [], ls='none', marker='o', ms=MS, color=ORANGE),
           Line2D([], [], color=GREEN, lw=0.9),
           Line2D([], [], color=GK, lw=0.9, dashes=(4, 2.5)),
           Line2D([], [], color='black', lw=0.9, dashes=(4, 2.5)),
           Line2D([], [], color=MAG, lw=0.9, dashes=(4, 1.5, 1, 1.5))]
labels = ['Experiment', 'TDLDA', 'Gross-Kohn kernel', 'Hubbard kernel', 'Corradini kernel']
leg = fig.legend(handles, labels, loc='upper left', bbox_to_anchor=(815 / W, 1 - 900 / H),
                 fontsize=10, frameon=True, fancybox=False, edgecolor='black', framealpha=1,
                 borderpad=0.15, labelspacing=0.08, handlelength=1.0, handletextpad=0.6,
                 borderaxespad=0)
leg.get_frame().set_linewidth(0.8)

fig.savefig('out.png', dpi=100)
